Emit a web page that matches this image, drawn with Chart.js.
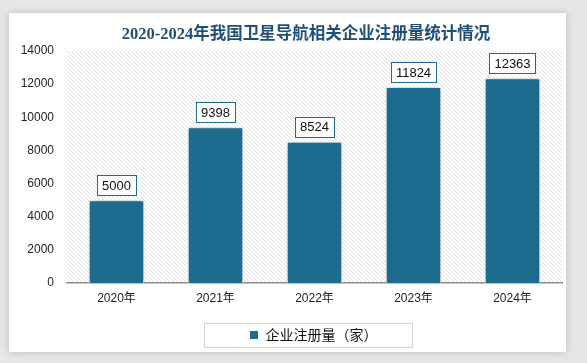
<!DOCTYPE html>
<html>
<head>
<meta charset="utf-8">
<script src="https://cdn.jsdelivr.net/npm/chart.js@4/dist/chart.umd.min.js"></script>
<style>
  html, body { margin: 0; padding: 0; background: #e6e6e6; }
  #wrap { width: 587px; height: 363px; position: relative; }
</style>
</head>
<body>
<div id="wrap"><canvas id="regChart" width="587" height="363"></canvas></div>
<script>
const years = ['2020年', '2021年', '2022年', '2023年', '2024年'];
const registrations = [5000, 9398, 8524, 11824, 12363];
const yTicks = [0, 2000, 4000, 6000, 8000, 10000, 12000, 14000];

const barColor = '#1d6b8e';
const legendShift = 28;

// hatch pattern for the plot area
function makeHatch() {
    const c = document.createElement('canvas');
    c.width = 4; c.height = 4;
    const g = c.getContext('2d');
    g.fillStyle = '#ffffff';
    g.fillRect(0, 0, 4, 4);
    g.strokeStyle = '#e0e0e0';
    g.lineWidth = 1;
    g.beginPath();
    g.moveTo(-1, -1); g.lineTo(5, 5);
    g.moveTo(-1, 3); g.lineTo(1, 5);
    g.moveTo(3, -1); g.lineTo(5, 1);
    g.stroke();
    return g.createPattern(c, 'repeat');
}

const backdrop = {
    id: 'backdrop',
    afterLayout(chart) {
        // legend sits a bit right of centre in the original
        chart.legend.left += legendShift;
        chart.legend.right += legendShift;
    },
    beforeDraw(chart) {
        const ctx = chart.ctx;
        const a = chart.chartArea;
        ctx.save();
        ctx.fillStyle = '#e6e6e6';
        ctx.fillRect(0, 0, chart.width, chart.height);
        ctx.shadowColor = 'rgba(0,0,0,0.18)';
        ctx.shadowBlur = 8;
        ctx.fillStyle = '#ffffff';
        ctx.fillRect(9, 13, 557, 339);
        ctx.restore();

        ctx.save();
        ctx.fillStyle = makeHatch();
        ctx.fillRect(a.left, a.top, a.right - a.left, a.bottom - a.top);
        ctx.restore();

        ctx.save();
        ctx.fillStyle = '#1f4e79';
        ctx.font = 'bold 16.5px "Liberation Serif", "Noto Sans CJK SC", serif';
        ctx.textAlign = 'center';
        ctx.textBaseline = 'middle';
        ctx.fillText('2020-2024年我国卫星导航相关企业注册量统计情况', 306, 35);
        ctx.restore();
    },
    beforeDatasetsDraw(chart) {
        const ctx = chart.ctx;
        ctx.save();
        ctx.shadowColor = 'rgba(0,0,0,0.35)';
        ctx.shadowBlur = 7;
    },
    afterDatasetsDraw(chart) {
        const ctx = chart.ctx;
        ctx.restore();
        // value labels
        const meta = chart.getDatasetMeta(0);
        ctx.save();
        ctx.font = '13px "Liberation Sans", sans-serif';
        ctx.textAlign = 'center';
        ctx.textBaseline = 'middle';
        meta.data.forEach((bar, i) => {
            const txt = String(chart.data.datasets[0].data[i]);
            const w = ctx.measureText(txt).width + 10;
            const h = 20;
            const x = bar.x - w / 2;
            const y = bar.y - 5 - h;
            ctx.fillStyle = '#ffffff';
            ctx.fillRect(x, y, w, h);
            ctx.strokeStyle = barColor;
            ctx.lineWidth = 1;
            ctx.strokeRect(Math.round(x) + 0.5, Math.round(y) + 0.5, Math.round(w), h);
            ctx.fillStyle = '#111111';
            ctx.fillText(txt, bar.x, y + h / 2 + 1);
        });
        ctx.restore();
    },
    afterDraw(chart) {
        // frame around the legend item
        const ctx = chart.ctx;
        const hb = chart.legend.legendHitBoxes[0];
        const cy = Math.round(hb.top + hb.height / 2);
        ctx.save();
        ctx.strokeStyle = '#d4d4d4';
        ctx.lineWidth = 1;
        ctx.strokeRect(204.5, cy - 12 + 0.5, 208, 24);
        ctx.restore();
    }
};

new Chart(document.getElementById('regChart'), {
    type: 'bar',
    data: {
        labels: years,
        datasets: [{
            label: '企业注册量（家）',
            data: registrations,
            backgroundColor: barColor,
            borderColor: '#ffffff',
            borderWidth: 1,
            categoryPercentage: 1,
            barPercentage: 0.56
        }]
    },
    options: {
        responsive: false,
        animation: false,
        devicePixelRatio: 1,
        layout: { padding: { left: 9, right: 25, top: 51, bottom: 11 } },
        plugins: {
            title: { display: false },
            tooltip: { enabled: false },
            legend: {
                display: true,
                position: 'bottom',
                labels: {
                    boxWidth: 9,
                    boxHeight: 9,
                    padding: 14,
                    color: '#111',
                    font: { size: 14, family: '"Noto Sans CJK SC", sans-serif' }
                }
            }
        },
        scales: {
            x: {
                grid: { display: false, drawTicks: false },
                border: { display: true, color: '#8c8c8c', width: 1.5 },
                ticks: {
                    color: '#222',
                    padding: 8,
                    font: { size: 12, family: '"Liberation Sans", "Noto Sans CJK SC", sans-serif' }
                },
                afterFit(scale) { scale.height = 31; }
            },
            y: {
                min: 0,
                max: 14000,
                afterBuildTicks(scale) { scale.ticks = yTicks.map(v => ({ value: v })); },
                grid: { display: false, drawTicks: false },
                border: { display: false },
                ticks: {
                    color: '#222',
                    padding: 13,
                    font: { size: 12, family: '"Liberation Sans", sans-serif' },
                    callback: v => String(v)
                },
                afterFit(scale) { scale.width = 58; }
            }
        }
    },
    plugins: [backdrop]
});
</script>
</body>
</html>
